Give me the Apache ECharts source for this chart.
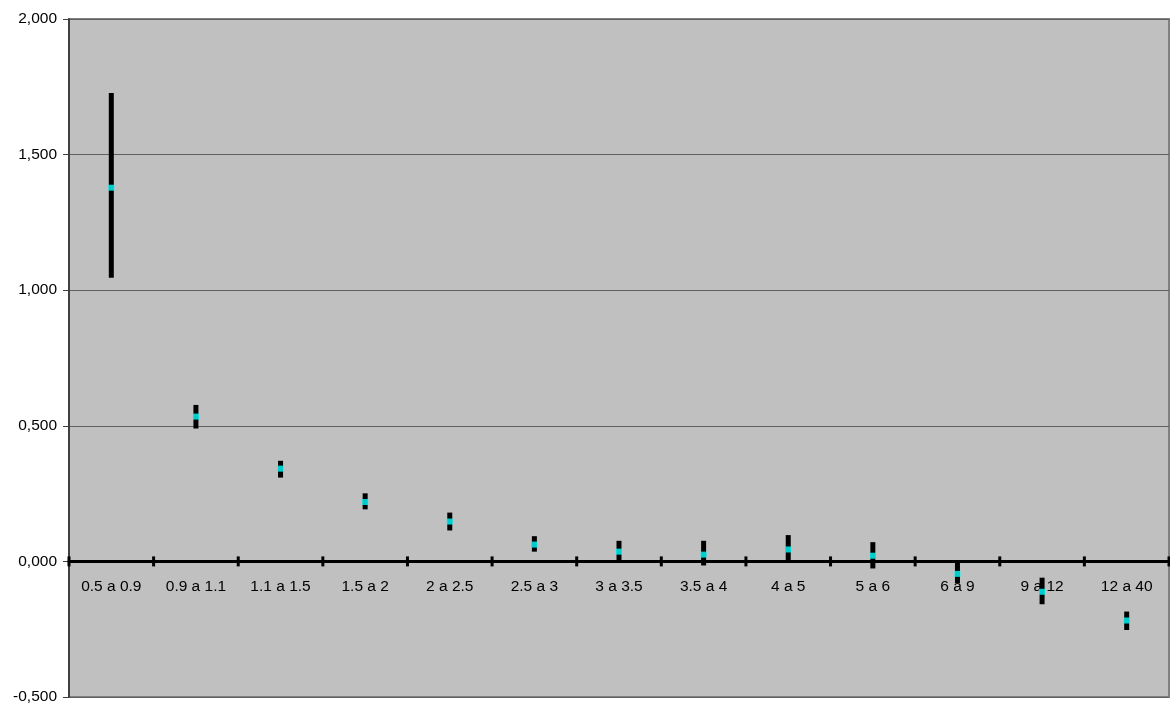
<!DOCTYPE html>
<html>
<head>
<meta charset="utf-8">
<script src="https://cdn.jsdelivr.net/npm/echarts@6/dist/echarts.min.js"></script>
<style>
html,body{margin:0;padding:0;background:#fff;}
#chart{width:1170px;height:709px;}
</style>
</head>
<body>
<div id="chart"></div>
<script>
const categories = ['0.5 a 0.9','0.9 a 1.1','1.1 a 1.5','1.5 a 2','2 a 2.5','2.5 a 3','3 a 3.5','3.5 a 4','4 a 5','5 a 6','6 a 9','9 a 12','12 a 40'];
const highValues = [1.727, 0.577, 0.371, 0.251, 0.180, 0.093, 0.076, 0.076, 0.097, 0.071, 0.000, -0.060, -0.185];
const lowValues  = [1.046, 0.490, 0.309, 0.192, 0.114, 0.036, 0.003, -0.015, 0.000, -0.026, -0.080, -0.158, -0.253];
const meanValues = [1.378, 0.534, 0.342, 0.219, 0.147, 0.062, 0.036, 0.025, 0.044, 0.021, -0.046, -0.112, -0.218];
const yTicks = { min: -0.5, max: 2.0, interval: 0.5 };

const chart = echarts.init(document.getElementById('chart'), null, {renderer: 'canvas'});
const font = 'Liberation Sans, Arial, sans-serif';

const barData = categories.map((c, i) => [i, lowValues[i], highValues[i]]);
// one item per category boundary (including the right end): tick mark + category label at zero line
const tickData = categories.concat(['']).map((c, i) => [i]);

chart.setOption({
  animation: false,
  backgroundColor: '#ffffff',
  grid: {
    left: 69, right: 1, top: 19, bottom: 12,
    containLabel: false, outerBoundsMode: 'none',
    show: true, backgroundColor: '#c0c0c0', borderColor: '#808080', borderWidth: 2
  },
  xAxis: {
    type: 'category',
    data: categories,
    boundaryGap: true,
    axisLine: { onZero: true, lineStyle: { color: '#000', width: 3 } },
    axisTick: { show: false },
    axisLabel: { show: false },
    splitLine: { show: false },
    z: 5
  },
  yAxis: {
    type: 'value',
    min: yTicks.min, max: yTicks.max, interval: yTicks.interval,
    axisLine: { show: true, onZero: false, lineStyle: { color: '#404040', width: 2 } },
    axisTick: { show: true, length: 6, lineStyle: { color: '#404040', width: 1 } },
    axisLabel: {
      color: '#000', fontFamily: font, fontSize: 15.5, margin: 12,
      formatter: v => v.toFixed(3).replace('.', ',')
    },
    splitLine: { show: true, lineStyle: { color: '#606060', width: 1 } }
  },
  series: [{
    type: 'custom',
    data: tickData,
    z: 6,
    silent: true,
    clip: false,
    renderItem: function (params, api) {
      const i = api.value(0);
      const n = categories.length;
      const ref = api.coord([Math.min(i, n - 1), 0]);
      const band = api.size([1, 0])[0];
      const x = i < n ? ref[0] - band / 2 : ref[0] + band / 2;
      const children = [{
        type: 'line',
        shape: { x1: x, y1: ref[1] - 5, x2: x, y2: ref[1] + 5 },
        style: { stroke: '#000', lineWidth: 3 }
      }];
      if (i < n) {
        children.push({
          type: 'text',
          x: ref[0], y: ref[1] + 17,
          style: {
            text: categories[i], fill: '#000',
            font: '15.5px ' + font,
            textAlign: 'center', textVerticalAlign: 'top'
          }
        });
      }
      return { type: 'group', children: children };
    }
  }, {
    type: 'custom',
    data: barData,
    z: 10,
    renderItem: function (params, api) {
      const x = api.value(0);
      const lo = api.coord([x, api.value(1)]);
      const hi = api.coord([x, api.value(2)]);
      return {
        type: 'rect',
        shape: { x: lo[0] - 2.5, y: hi[1], width: 5, height: lo[1] - hi[1] },
        style: { fill: '#000000' }
      };
    }
  }, {
    type: 'scatter',
    data: meanValues,
    symbol: 'rect',
    symbolSize: [6, 6],
    itemStyle: { color: '#00ffff' },
    z: 11
  }]
});
</script>
</body>
</html>
